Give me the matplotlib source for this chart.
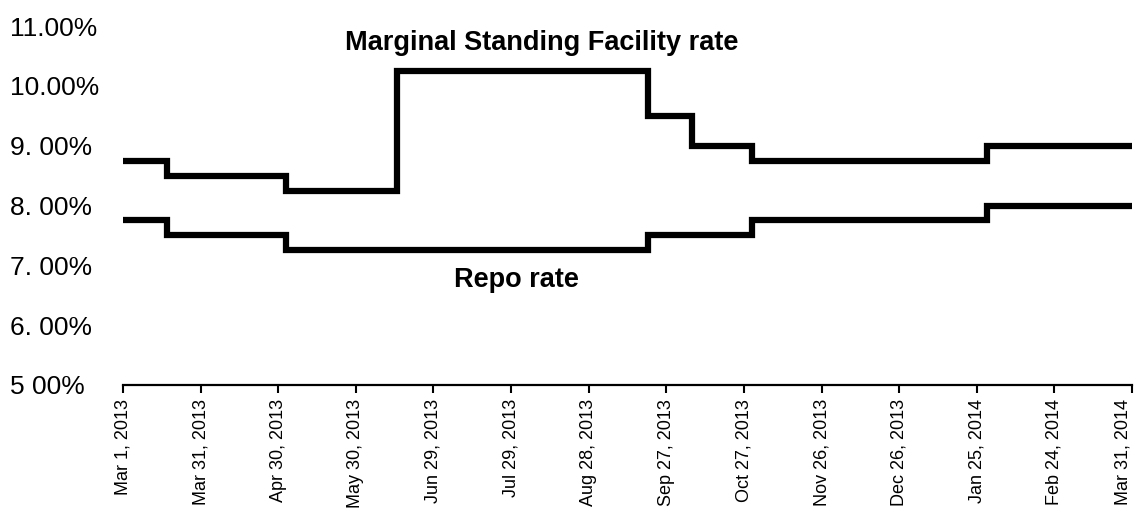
import numpy as np
import matplotlib
matplotlib.use('Agg')
import matplotlib.pyplot as plt

plt.rcParams['font.family'] = ['Liberation Sans', 'DejaVu Sans']

# ------------------------------------------------------------
# Données (jours depuis le 1er mars 2013, taux en %)
# ------------------------------------------------------------
tick_days = [0, 30, 60, 90, 120, 150, 180, 210, 240, 270, 300, 330, 360, 390]
tick_labels = ['Mar 1, 2013', 'Mar 31, 2013', 'Apr 30, 2013', 'May 30, 2013',
               'Jun 29, 2013', 'Jul 29, 2013', 'Aug 28, 2013', 'Sep 27, 2013',
               'Oct 27, 2013', 'Nov 26, 2013', 'Dec 26, 2013', 'Jan 25, 2014',
               'Feb 24, 2014', 'Mar 31, 2014']

msf_days = [0, 17, 63, 106, 203, 220, 243, 334, 390]
msf_rate = [8.75, 8.50, 8.25, 10.25, 9.50, 9.00, 8.75, 9.00, 9.00]

repo_days = [0, 17, 63, 203, 243, 334, 390]
repo_rate = [7.75, 7.50, 7.25, 7.50, 7.75, 8.00, 8.00]

y_ticks = [5, 6, 7, 8, 9, 10, 11]
y_labels = ['5 00%', '6. 00%', '7. 00%', '8. 00%', '9. 00%', '10.00%', '11.00%']

# ------------------------------------------------------------
# Figure
# ------------------------------------------------------------
fig = plt.figure(figsize=(11.36, 5.12), dpi=100)
ax = fig.add_axes([123 / 1136, 1 - 385 / 512, (1132 - 123) / 1136, (385 - 26) / 512])

ax.plot(msf_days, msf_rate, drawstyle='steps-post', color='black', lw=4.5,
        solid_joinstyle='miter')
ax.plot(repo_days, repo_rate, drawstyle='steps-post', color='black', lw=4.5,
        solid_joinstyle='miter')

ax.set_xlim(0, 390)
ax.set_ylim(5, 11)

# axe x : dates verticales
ax.set_xticks(tick_days)
ax.set_xticklabels(tick_labels, rotation=90, fontsize=13)
ax.tick_params(axis='x', direction='out', length=6, width=1.5, pad=4)
# la dernière date touche le bord droit : on l'aligne à droite du trait
ax.get_xticklabels()[-1].set_ha('right')

# axe y : étiquettes alignées à gauche, pas de trait
ax.set_yticks(y_ticks)
ax.set_yticklabels(y_labels, fontsize=19, ha='left')
ax.tick_params(axis='y', length=0, pad=81)

for s in ['left', 'right', 'top']:
    ax.spines[s].set_visible(False)
ax.spines['bottom'].set_linewidth(1.6)

# étiquettes des courbes
ax.text(162, 10.6, 'Marginal Standing Facility rate', ha='center', va='baseline',
        fontsize=19.5, fontweight='bold')
ax.text(152, 6.63, 'Repo rate', ha='center', va='baseline',
        fontsize=19.5, fontweight='bold')

fig.savefig('out.png', dpi=100, facecolor='white')
